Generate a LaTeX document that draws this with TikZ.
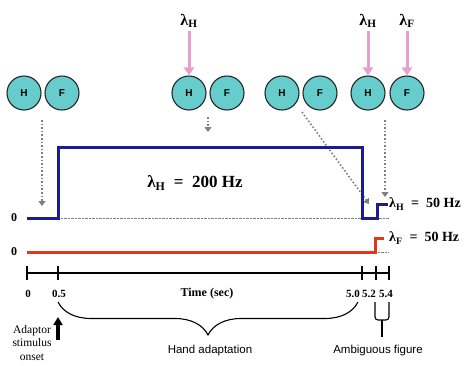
\documentclass[tikz,border=0pt]{standalone}
\usepackage{fontspec}
\setmainfont{Liberation Serif}
\setsansfont{Liberation Sans}
\usetikzlibrary{arrows.meta,decorations.pathreplacing}

\definecolor{cellfill}{HTML}{66CCCC}
\definecolor{ratepink}{HTML}{E6A0D0}
\definecolor{handblue}{HTML}{1C1C8E}
\definecolor{facered}{HTML}{E0381A}

\newcommand{\lam}[1]{λ\textsubscript{#1}}

\tikzset{
 cell/.style={circle, draw=black!85, line width=1.1pt, fill=cellfill, minimum size=34pt, inner sep=0pt, font=\sffamily\bfseries\fontsize{10}{10}\selectfont},
 drive/.style={ratepink, line width=3pt, -{Triangle[length=8pt,width=10pt]}},
 cue/.style={gray, dotted, line width=1.6pt, -{Triangle[length=5pt,width=7pt]}},
 lamlab/.style={font=\bfseries\fontsize{16}{16}\selectfont},
 ratelab/.style={font=\bfseries\fontsize{14}{14}\selectfont, anchor=west, inner sep=1pt},
 ticklab/.style={font=\bfseries\fontsize{11}{11}\selectfont},
 caption/.style={font=\sffamily\fontsize{11.5}{11.5}\selectfont}
}

\begin{document}
\begin{tikzpicture}[x=1pt, y=-1pt]
 \useasboundingbox (0,0) rectangle (464,365);
 % neuron pairs
 \node[cell] (h1) at (24,93) {H};
 \node[cell] (f1) at (62,93) {F};
 \node[cell] (h2) at (189,93) {H};
 \node[cell] (f2) at (227,93) {F};
 \node[cell] (h3) at (282,93) {H};
 \node[cell] (f3) at (320,93) {F};
 \node[cell] (h4) at (368,93) {H};
 \node[cell] (f4) at (407,93) {F};
 % inputs
 \node[lamlab] (in2) at (189,21) {\lam{H}};
 \node[lamlab] (in4) at (368,21) {\lam{H}};
 \node[lamlab] (in5) at (407,21) {\lam{F}};
 \draw[drive] (in2.south) -- (h2.north);
 \draw[drive] (in4.south) -- (h4.north);
 \draw[drive] (in5.south) -- (f4.north);
 % dotted pointers
 \coordinate (p1) at (42,120);
 \coordinate (q1) at (42,206);
 \coordinate (p2) at (208,117);
 \coordinate (q2) at (208,132);
 \coordinate (p3) at (302,112);
 \coordinate (q3) at (369,204);
 \coordinate (p4) at (385,120);
 \coordinate (q4) at (385,197);
 \draw[cue] (p1) -- (q1);
 \draw[cue] (p2) -- (q2);
 \draw[cue] (p3) -- (q3);
 \draw[cue] (p4) -- (q4);
 % rates
 \draw[gray, densely dotted, thin] (58,218) -- (389,218);
 \draw[gray, densely dotted, thin] (375,252) -- (389,252);
 \draw[handblue, line width=3pt] (27,218) -- (58,218) -- (58,147) -- (362,147) -- (362,218) -- (377,218) -- (377,204) -- (388,204);
 \draw[facered, line width=3pt] (27,252) -- (375,252) -- (375,238) -- (384,238);
 \node[font=\bfseries\fontsize{17}{17}\selectfont] (hi) at (195,183) {\lam{H}\enspace=\enspace200 Hz};
 \node[ratelab] (lo1) at (388,204) {\lam{H}\enspace=\enspace50 Hz};
 \node[ratelab] (lo2) at (388,238) {\lam{F}\enspace=\enspace50 Hz};
 \node[ticklab, font=\bfseries\fontsize{12}{12}\selectfont] (z1) at (14,218) {0};
 \node[ticklab, font=\bfseries\fontsize{12}{12}\selectfont] (z2) at (14,252) {0};
 % time axis
 \draw[line width=2pt] (27,273) -- (389,273);
 \foreach \x in {27,58,362,376,389}
  \draw[line width=2pt] (\x,266) -- (\x,280);
 \foreach \x/\t in {28/0, 59/0.5, 353/5.0, 369/5.2, 386/5.4}
  \node[ticklab] at (\x,294) {\t};
 \node[ticklab, font=\bfseries\fontsize{12}{12}\selectfont] (tl) at (207,294) {Time (sec)};
 % periods
 \draw[line width=1.1pt, decorate, decoration={brace, amplitude=33pt}] (358,302) -- (58,302);
 \node[caption] (hand) at (210,351) {Hand adaptation};
 \draw[line width=1.1pt, rounded corners=3pt] (375,302) -- (375,320) -- (389,320) -- (389,302);
 \draw[line width=1.1pt] (382,320) -- (382,337);
 \node[caption] (amb) at (378,351) {Ambiguous figure};
 \draw[line width=3.5pt, -{Triangle[length=8pt,width=9pt]}] (58,340) -- (58,317);
 \node[align=center, font=\fontsize{11.5}{13.5}\selectfont] (onset) at (32,343) {Adaptor\\stimulus\\onset};
\end{tikzpicture}
\end{document}
